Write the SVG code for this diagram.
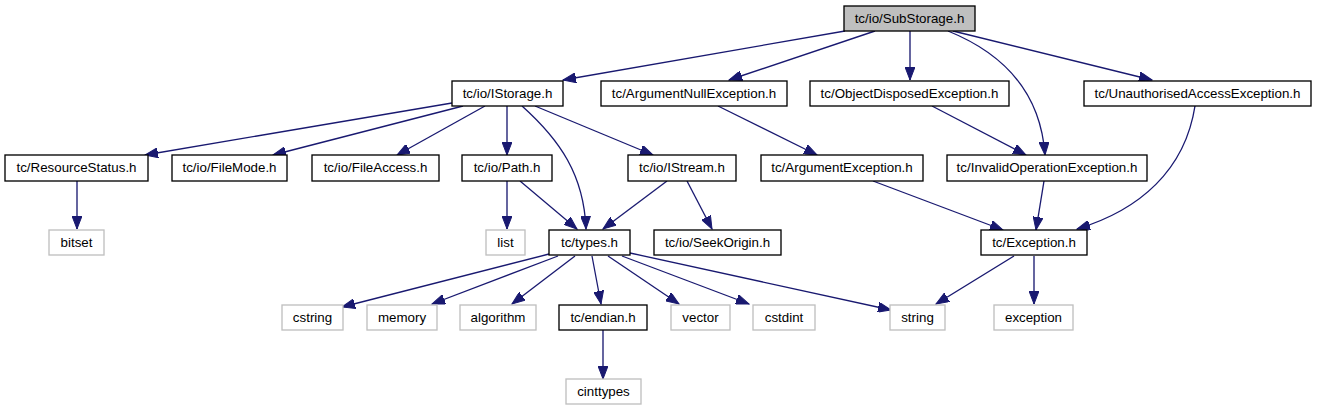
<svg xmlns="http://www.w3.org/2000/svg" width="1317" height="411" viewBox="0 0 1317 411">
<defs>
<marker id="ah" markerUnits="userSpaceOnUse" markerWidth="14" markerHeight="10" refX="13" refY="5" orient="auto">
<path d="M0,0 L13,5 L0,10 z" fill="#191970" stroke="#191970" stroke-width="1"/>
</marker>
<style>
.n rect{fill:#ffffff;stroke:#000000;stroke-width:1.33}
.n.g rect{stroke:#bfbfbf}
.n.root rect{fill:#bfbfbf}
.n text{font-family:"Liberation Sans",Arial,sans-serif;font-size:13.33px;fill:#000000;text-anchor:middle}
.e path{fill:none;stroke:#191970;stroke-width:1.33;marker-end:url(#ah)}
</style>
</defs>
<rect width="1317" height="411" fill="#ffffff"/>
<g id="edges" class="e">
<path d="M845,31 L563,80"/>
<path d="M875,31 L729,80"/>
<path d="M910,31 L910,80"/>
<path d="M948,31 C995,50 1040,85 1045,155"/>
<path d="M953,31 L1152,80"/>
<path d="M718,106 L817,155"/>
<path d="M932,106 L1026,155"/>
<path d="M1195,106 C1185,170 1140,210 1077,229"/>
<path d="M1044,181 L1036,230"/>
<path d="M873,181 L1003,230"/>
<path d="M452,103 L145,155"/>
<path d="M463,106 L273,155"/>
<path d="M485,106 L397,155"/>
<path d="M507,106 L507,155"/>
<path d="M535,106 L653,155"/>
<path d="M522,106 C560,140 584,175 586,229"/>
<path d="M77,181 L77,229"/>
<path d="M507,181 L507,229"/>
<path d="M520,181 L577,229"/>
<path d="M667,181 L603,229"/>
<path d="M687,181 L712,229"/>
<path d="M549,254 L342,307"/>
<path d="M558,256 L432,304"/>
<path d="M575,256 L512,304"/>
<path d="M592,256 L601,304"/>
<path d="M608,256 L679,304"/>
<path d="M622,256 L749,304"/>
<path d="M630,253 L891,310"/>
<path d="M1014,256 L936,304"/>
<path d="M1034,256 L1034,304"/>
<path d="M603,330 L603,379"/>
</g>
<g id="SubStorage" class="n root"><rect x="844" y="6" width="131" height="25"/><text x="909.5" y="23">tc/io/SubStorage.h</text></g>
<g id="IStorage" class="n"><rect x="452" y="81" width="111" height="25"/><text x="507.5" y="98">tc/io/IStorage.h</text></g>
<g id="ArgumentNullException" class="n"><rect x="601" y="81" width="186" height="25"/><text x="694" y="98">tc/ArgumentNullException.h</text></g>
<g id="ObjectDisposedException" class="n"><rect x="810" y="81" width="199" height="25"/><text x="909.5" y="98">tc/ObjectDisposedException.h</text></g>
<g id="UnauthorisedAccessException" class="n"><rect x="1084" y="81" width="227" height="25"/><text x="1197.5" y="98">tc/UnauthorisedAccessException.h</text></g>
<g id="ResourceStatus" class="n"><rect x="5" y="155" width="143" height="26"/><text x="76.5" y="172">tc/ResourceStatus.h</text></g>
<g id="FileMode" class="n"><rect x="172" y="155" width="115" height="26"/><text x="229.5" y="172">tc/io/FileMode.h</text></g>
<g id="FileAccess" class="n"><rect x="312" y="155" width="127" height="26"/><text x="375.5" y="172">tc/io/FileAccess.h</text></g>
<g id="Path" class="n"><rect x="462" y="155" width="90" height="26"/><text x="507" y="172">tc/io/Path.h</text></g>
<g id="IStream" class="n"><rect x="628" y="155" width="108" height="26"/><text x="682" y="172">tc/io/IStream.h</text></g>
<g id="ArgumentException" class="n"><rect x="761" y="155" width="162" height="26"/><text x="842" y="172">tc/ArgumentException.h</text></g>
<g id="InvalidOperationException" class="n"><rect x="947" y="155" width="200" height="26"/><text x="1047" y="172">tc/InvalidOperationException.h</text></g>
<g id="bitset" class="n g"><rect x="49" y="230" width="55" height="25"/><text x="76.5" y="247">bitset</text></g>
<g id="list" class="n g"><rect x="486" y="230" width="39" height="25"/><text x="505.5" y="247">list</text></g>
<g id="types" class="n"><rect x="549" y="230" width="81" height="25"/><text x="589.5" y="247">tc/types.h</text></g>
<g id="SeekOrigin" class="n"><rect x="654" y="230" width="127" height="25"/><text x="717.5" y="247">tc/io/SeekOrigin.h</text></g>
<g id="Exception" class="n"><rect x="981" y="230" width="106" height="25"/><text x="1034" y="247">tc/Exception.h</text></g>
<g id="cstring" class="n g"><rect x="282" y="305" width="61" height="25"/><text x="312.5" y="322">cstring</text></g>
<g id="memory" class="n g"><rect x="367" y="305" width="70" height="25"/><text x="402" y="322">memory</text></g>
<g id="algorithm" class="n g"><rect x="460" y="305" width="76" height="25"/><text x="498" y="322">algorithm</text></g>
<g id="endian" class="n"><rect x="559" y="305" width="88" height="25"/><text x="603" y="322">tc/endian.h</text></g>
<g id="vector" class="n g"><rect x="671" y="305" width="59" height="25"/><text x="700.5" y="322">vector</text></g>
<g id="cstdint" class="n g"><rect x="753" y="305" width="62" height="25"/><text x="784" y="322">cstdint</text></g>
<g id="string" class="n g"><rect x="890" y="305" width="55" height="25"/><text x="917.5" y="322">string</text></g>
<g id="exception" class="n g"><rect x="994" y="305" width="79" height="25"/><text x="1033.5" y="322">exception</text></g>
<g id="cinttypes" class="n g"><rect x="566" y="379" width="75" height="25"/><text x="603.5" y="396">cinttypes</text></g>
</svg>
